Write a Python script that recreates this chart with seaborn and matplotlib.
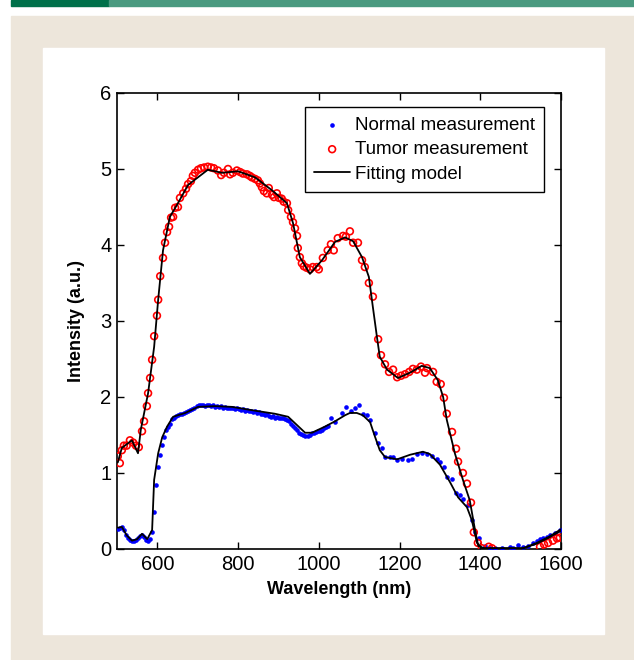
import numpy as np
import pandas as pd
import seaborn as sns
import matplotlib.pyplot as plt
from matplotlib.patches import Rectangle

# Normal tissue measurement (blue dots)
normal_wl = [502, 507, 512, 517, 522, 527, 532, 537, 542, 547, 552, 557, 562, 567, 572, 577, 582, 587,
             592, 597, 602, 607, 612, 617, 622, 627, 632, 637, 642, 647, 652, 657, 662, 667, 672, 677,
             682, 687, 692, 697, 702, 707, 712, 717, 722, 727, 732, 737, 742, 747, 752, 757, 762, 767,
             772, 777, 782, 787, 792, 797, 802, 807, 812, 817, 822, 827, 832, 837, 842, 847, 852, 857,
             862, 867, 872, 877, 882, 887, 892, 897, 902, 907, 912, 917, 922, 927, 932, 937, 942, 947,
             952, 957, 962, 967, 972, 977, 982, 987, 992, 997, 1002, 1007, 1012, 1017, 1022, 1030,
             1040, 1057, 1067, 1080, 1090, 1100, 1109, 1119, 1127, 1139, 1147, 1156, 1164, 1176, 1184,
             1194, 1206, 1221, 1231, 1243, 1256, 1268, 1280, 1293, 1300, 1310, 1317, 1330, 1340, 1350,
             1357, 1369, 1379, 1387, 1397, 1411, 1424, 1436, 1454, 1473, 1481, 1493, 1506, 1518, 1530,
             1540, 1548, 1556, 1565, 1573, 1585, 1597]
normal_int = [0.26, 0.28, 0.29, 0.25, 0.19, 0.15, 0.12, 0.10, 0.11, 0.12, 0.14, 0.17, 0.19, 0.16, 0.12,
              0.10, 0.13, 0.23, 0.49, 0.84, 1.08, 1.24, 1.37, 1.48, 1.56, 1.60, 1.65, 1.71, 1.73, 1.75,
              1.76, 1.77, 1.78, 1.79, 1.80, 1.82, 1.83, 1.84, 1.86, 1.88, 1.90, 1.89, 1.90, 1.88, 1.90,
              1.89, 1.88, 1.89, 1.87, 1.88, 1.87, 1.88, 1.86, 1.87, 1.86, 1.85, 1.86, 1.85, 1.84, 1.85,
              1.84, 1.83, 1.84, 1.82, 1.83, 1.81, 1.82, 1.80, 1.81, 1.79, 1.80, 1.78, 1.77, 1.76, 1.77,
              1.75, 1.74, 1.75, 1.73, 1.74, 1.72, 1.73, 1.72, 1.71, 1.70, 1.68, 1.65, 1.62, 1.59, 1.56,
              1.53, 1.51, 1.50, 1.49, 1.49, 1.50, 1.52, 1.53, 1.54, 1.55, 1.55, 1.57, 1.59, 1.60, 1.62,
              1.73, 1.67, 1.79, 1.87, 1.81, 1.85, 1.89, 1.78, 1.76, 1.70, 1.52, 1.39, 1.33, 1.21, 1.21,
              1.21, 1.17, 1.18, 1.17, 1.19, 1.25, 1.26, 1.25, 1.22, 1.19, 1.15, 1.08, 0.95, 0.92, 0.74,
              0.71, 0.66, 0.58, 0.38, 0.22, 0.14, 0.04, 0.01, 0.01, 0.01, 0.02, 0.01, 0.05, 0.03, 0.04,
              0.08, 0.11, 0.13, 0.14, 0.16, 0.18, 0.21, 0.25]

# Tumor tissue measurement (red circles)
tumor_wl = [502, 507, 512, 517, 524, 532, 540, 547, 554, 562, 567, 574, 577, 582, 587, 592, 599, 602,
            607, 614, 619, 624, 629, 634, 639, 644, 651, 656, 664, 671, 676, 683, 688, 693, 701, 708,
            716, 725, 733, 740, 750, 758, 765, 775, 780, 787, 797, 805, 812, 822, 829, 834, 842, 849,
            854, 859, 864, 871, 876, 884, 889, 896, 901, 908, 913, 921, 924, 931, 936, 941, 946, 948,
            953, 958, 963, 970, 978, 985, 995, 1000, 1010, 1022, 1030, 1037, 1047, 1060, 1067, 1077,
            1085, 1097, 1107, 1114, 1124, 1134, 1147, 1154, 1164, 1174, 1184, 1194, 1204, 1214, 1224,
            1233, 1243, 1253, 1263, 1268, 1283, 1292, 1302, 1310, 1317, 1330, 1340, 1345, 1357, 1367,
            1377, 1384, 1394, 1404, 1421, 1429, 1548, 1558, 1568, 1580, 1590, 1597]
tumor_int = [1.22, 1.13, 1.30, 1.36, 1.36, 1.43, 1.40, 1.36, 1.34, 1.55, 1.68, 1.88, 2.05, 2.25, 2.49,
             2.80, 3.07, 3.28, 3.59, 3.83, 4.03, 4.17, 4.24, 4.36, 4.37, 4.49, 4.50, 4.62, 4.68, 4.74,
             4.80, 4.84, 4.91, 4.95, 4.99, 5.01, 5.02, 5.03, 5.02, 5.01, 4.98, 4.92, 4.95, 5.00, 4.93,
             4.95, 4.98, 4.96, 4.94, 4.93, 4.91, 4.89, 4.87, 4.85, 4.81, 4.76, 4.71, 4.68, 4.75, 4.66,
             4.63, 4.68, 4.62, 4.61, 4.57, 4.55, 4.46, 4.37, 4.30, 4.22, 4.12, 3.96, 3.84, 3.76, 3.72,
             3.70, 3.68, 3.71, 3.71, 3.68, 3.83, 3.93, 4.01, 3.93, 4.09, 4.12, 4.11, 4.18, 4.03, 4.03,
             3.80, 3.71, 3.50, 3.32, 2.76, 2.55, 2.43, 2.33, 2.36, 2.26, 2.28, 2.30, 2.33, 2.37, 2.36,
             2.40, 2.32, 2.38, 2.33, 2.20, 2.17, 1.99, 1.78, 1.54, 1.32, 1.15, 1.00, 0.86, 0.61, 0.22,
             0.08, 0.01, 0.03, 0.01, 0.03, 0.06, 0.08, 0.11, 0.14, 0.15]

# Fitting model curves
fit_n_wl = [502, 512, 524, 537, 550, 562, 575, 587, 592, 602, 612, 624, 639, 669, 701, 743, 785, 842,
            891, 924, 946, 966, 983, 1015, 1040, 1065, 1077, 1094, 1109, 1127, 1139, 1151, 1164, 1194,
            1226, 1258, 1275, 1300, 1325, 1345, 1367, 1379, 1392, 1404, 1450, 1506, 1540, 1570, 1600]
fit_n_int = [0.28, 0.29, 0.18, 0.11, 0.13, 0.20, 0.13, 0.25, 0.91, 1.26, 1.47, 1.61, 1.74, 1.79, 1.87,
             1.88, 1.87, 1.82, 1.78, 1.74, 1.63, 1.53, 1.53, 1.61, 1.68, 1.76, 1.79, 1.79, 1.76, 1.67,
             1.48, 1.30, 1.21, 1.18, 1.24, 1.28, 1.25, 1.11, 0.88, 0.68, 0.55, 0.38, 0.08, 0.01, 0.01,
             0.01, 0.08, 0.16, 0.26]
fit_t_wl = [502, 512, 537, 552, 559, 577, 592, 602, 614, 631, 651, 676, 725, 760, 800, 842, 884, 921,
            936, 953, 978, 1008, 1040, 1065, 1085, 1107, 1124, 1134, 1144, 1151, 1169, 1196, 1226, 1255,
            1275, 1295, 1308, 1317, 1337, 1357, 1374, 1387, 1395, 1410, 1450, 1506, 1540, 1570, 1600]
fit_t_int = [1.14, 1.33, 1.43, 1.26, 1.57, 2.05, 2.66, 3.28, 3.93, 4.37, 4.55, 4.79, 4.99, 4.95, 4.97,
             4.89, 4.72, 4.55, 4.29, 3.84, 3.62, 3.80, 4.04, 4.10, 4.05, 3.84, 3.58, 3.18, 2.79, 2.53,
             2.36, 2.25, 2.32, 2.41, 2.38, 2.22, 2.00, 1.70, 1.26, 0.91, 0.64, 0.25, 0.04, 0.01, 0.01,
             0.01, 0.07, 0.15, 0.24]

normal = pd.DataFrame({"wl": normal_wl, "I": normal_int})
tumor = pd.DataFrame({"wl": tumor_wl, "I": tumor_int})
fit_n = pd.DataFrame({"wl": fit_n_wl, "I": fit_n_int})
fit_t = pd.DataFrame({"wl": fit_t_wl, "I": fit_t_int})

sns.set_style("ticks")
plt.rcParams['font.family'] = ['Liberation Sans', 'DejaVu Sans']
plt.rcParams['text.color'] = 'black'
plt.rcParams['axes.labelcolor'] = 'black'

fig = plt.figure(figsize=(6.34, 6.60), dpi=100)
fig.patch.set_facecolor("white")
# page decoration: green strip, beige frame, white panel
deco = [((11, 0), 98, 6, "#00704A"), ((109, 0), 525, 6, "#4A9A80"),
        ((11, 16), 623, 644, "#EDE6DB"), ((43, 48), 561, 586, "white")]
for (x0, y0), w, h, c in deco:
    fig.patches.append(Rectangle((x0/634, 1-(y0+h)/660), w/634, h/660,
                                 transform=fig.transFigure, color=c, zorder=-10))

ax = fig.add_axes([117/634, 1-549/660, 444/634, 456/660])
ax.set_zorder(5)

sns.scatterplot(data=normal, x="wl", y="I", ax=ax, color="blue", s=11, linewidth=0,
                label="Normal measurement", zorder=3)
sns.scatterplot(data=tumor, x="wl", y="I", ax=ax, color="red", s=24, marker="o",
                label="Tumor measurement", zorder=3)
circ = ax.collections[-1]
circ.set_facecolor("none")
circ.set_edgecolor("red")
circ.set_linewidth(1.2)
sns.lineplot(data=fit_n, x="wl", y="I", ax=ax, color="black", lw=1.3, estimator=None,
             label="Fitting model", zorder=4)
sns.lineplot(data=fit_t, x="wl", y="I", ax=ax, color="black", lw=1.3, estimator=None, zorder=4)

ax.set_xlim(500, 1600)
ax.set_ylim(0, 6)
ax.set_xticks([600, 800, 1000, 1200, 1400, 1600])
ax.set_yticks([0, 1, 2, 3, 4, 5, 6])
ax.tick_params(direction="in", top=True, right=True, length=5, width=1,
               labelsize=14.5, pad=4, colors="black")
for sp in ax.spines.values():
    sp.set_linewidth(1.2)
    sp.set_color("black")
ax.set_xlabel("Wavelength (nm)", fontsize=13, fontweight="bold", labelpad=5)
ax.set_ylabel("Intensity (a.u.)", fontsize=13, fontweight="bold", labelpad=11)

leg = ax.legend(loc="upper right", bbox_to_anchor=(427/444, 442/456), borderaxespad=0,
                fontsize=13.5, frameon=True, fancybox=False, edgecolor="black", framealpha=1,
                handlelength=1.9, borderpad=0.5, labelspacing=0.4, handletextpad=0.25)
leg.get_frame().set_linewidth(1.0)

plt.savefig("out.png", dpi=100)
